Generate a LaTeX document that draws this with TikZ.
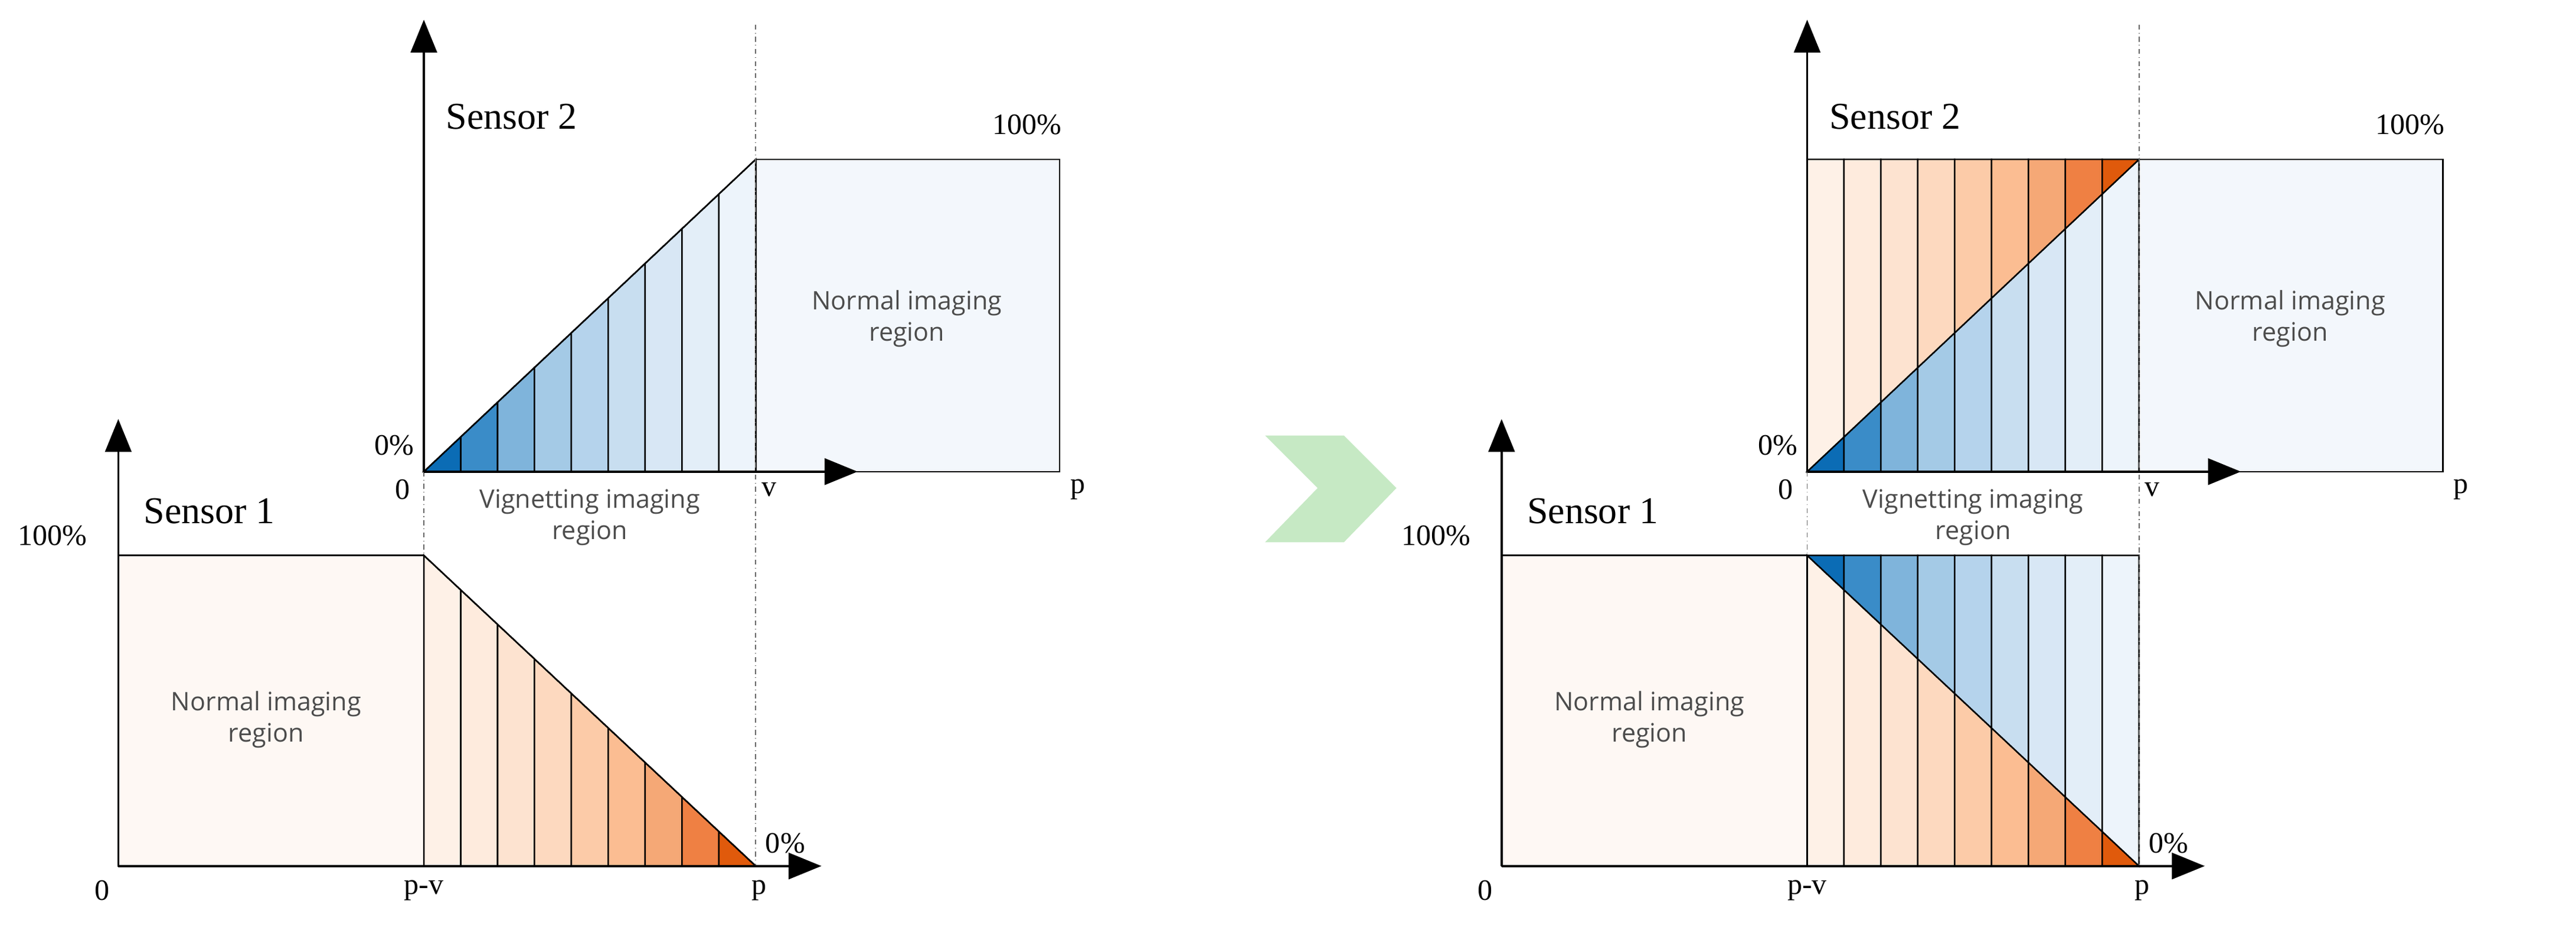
\documentclass[tikz,border=0pt]{standalone}
\usepackage{fontspec}
\setmainfont{Liberation Serif}
\newfontfamily\regfont{Open Sans}
\usetikzlibrary{arrows.meta,positioning}
\definecolor{b0}{HTML}{0B6CB5}\definecolor{b1}{HTML}{3A8CC8}\definecolor{b2}{HTML}{7FB4DB}
\definecolor{b3}{HTML}{A4CAE6}\definecolor{b4}{HTML}{B5D3EC}\definecolor{b5}{HTML}{C8DEF0}
\definecolor{b6}{HTML}{D8E7F5}\definecolor{b7}{HTML}{E3EEF8}\definecolor{b8}{HTML}{EDF4FB}
\definecolor{o0}{HTML}{FEF1E7}\definecolor{o1}{HTML}{FEEBDD}\definecolor{o2}{HTML}{FDE3D0}
\definecolor{o3}{HTML}{FDD9BF}\definecolor{o4}{HTML}{FCCBA8}\definecolor{o5}{HTML}{FBBD92}
\definecolor{o6}{HTML}{F5A876}\definecolor{o7}{HTML}{EF8043}\definecolor{o8}{HTML}{E05A0C}
\definecolor{normblue}{HTML}{F3F7FC}
\definecolor{normorange}{HTML}{FEF8F4}
\definecolor{chev}{HTML}{C6E9C4}

\begin{document}
\begin{tikzpicture}[x=1pt,y=-1pt,
    axis/.style={line width=1.3pt, -{Triangle[width=16pt,length=20pt]}},
    strip/.style={draw, line width=0.9pt},
    guide/.style={black!60, dash dot, line width=0.7pt},
    lbl/.style={font=\fontsize{18}{18}\selectfont},
    sensor/.style={font=\fontsize{23}{23}\selectfont},
    region/.style={font=\regfont\fontsize{15.5}{19}\selectfont, text=black!70, align=center}
]
\useasboundingbox (0,0) rectangle (1568,564);

% Two panels: left (before), right (after)
\foreach \dx/\full in {0/0, 842/1} {
\begin{scope}[xshift=\dx pt]
% Normal imaging regions
\draw[fill=normorange, line width=0.9pt] (72,338) rectangle (258,527);
\draw[fill=normblue, line width=0.9pt] (460,97) rectangle (645,287);
% Vignetting strips
\foreach \cb/\co [count=\i from 0] in {b0/o0,b1/o1,b2/o2,b3/o3,b4/o4,b5/o5,b6/o6,b7/o7,b8/o8} {
  \pgfmathsetmacro{\xa}{258+\i*(202/9)}
  \pgfmathsetmacro{\xb}{258+(\i+1)*(202/9)}
  \pgfmathsetmacro{\la}{338+(\xa-258)*(189/202)}
  \pgfmathsetmacro{\lb}{338+(\xb-258)*(189/202)}
  \pgfmathsetmacro{\ua}{287-(\xa-258)*(190/202)}
  \pgfmathsetmacro{\ub}{287-(\xb-258)*(190/202)}
  \draw[strip, fill=\co] (\xa,527) -- (\xa,\la) -- (\xb,\lb) -- (\xb,527) -- cycle;
  \draw[strip, fill=\cb] (\xa,287) -- (\xa,\ua) -- (\xb,\ub) -- (\xb,287) -- cycle;
  \ifnum\full=1
    \draw[strip, fill=\cb] (\xa,338) -- (\xa,\la) -- (\xb,\lb) -- (\xb,338) -- cycle;
    \draw[strip, fill=\co] (\xa,97) -- (\xa,\ua) -- (\xb,\ub) -- (\xb,97) -- cycle;
  \fi
}
\ifnum\full=0
  \draw[line width=0.9pt] (258,338) -- (460,527);
  \draw[line width=0.9pt] (258,287) -- (460,97);
\fi
% Guides
\draw[guide] (258,287) -- (258,338);
\draw[guide] (460,15) -- (460,527);
% Axes
\coordinate (o1) at (72,527); \coordinate (x1) at (500,527); \coordinate (y1) at (72,255);
\coordinate (o2) at (258,287); \coordinate (x2) at (522,287); \coordinate (y2) at (258,12);
\draw[axis] (o1) -- (x1);
\draw[axis] (o1) -- (y1);
\draw[axis] (o2) -- (x2);
\draw[axis] (o2) -- (y2);
% Labels
\node[sensor, anchor=west] (s1) at (84,311) {Sensor 1};
\node[sensor, anchor=west] (s2) at (268,71) {Sensor 2};
\node[lbl] (h1) at (32,326) {100\%};
\node[lbl] (h2) at (625,76) {100\%};
\node[lbl] (z1) at (62,542) {0};
\node[lbl] (pv) at (258,542) {p-v};
\node[lbl] (p1) at (462,542) {p};
\node[lbl] (zp1) at (478,513) {0\%};
\node[lbl] (zp2) at (240,271) {0\%};
\node[lbl] (z2) at (245,298) {0};
\node[lbl] (v2) at (468,298) {v};
\node[lbl] (p2) at (656,298) {p};
\node[region] (vig) at (359,315) {Vignetting imaging\\region};
\node[region] (n1) at (162,438) {Normal imaging\\region};
\node[region] (n2) at (552,194) {Normal imaging\\region};
\end{scope}
}
% Transition chevron
\fill[chev] (770,265) -- (818,265) -- (850,297) -- (818,330) -- (770,330) -- (802,297) -- cycle;
\end{tikzpicture}
\end{document}
